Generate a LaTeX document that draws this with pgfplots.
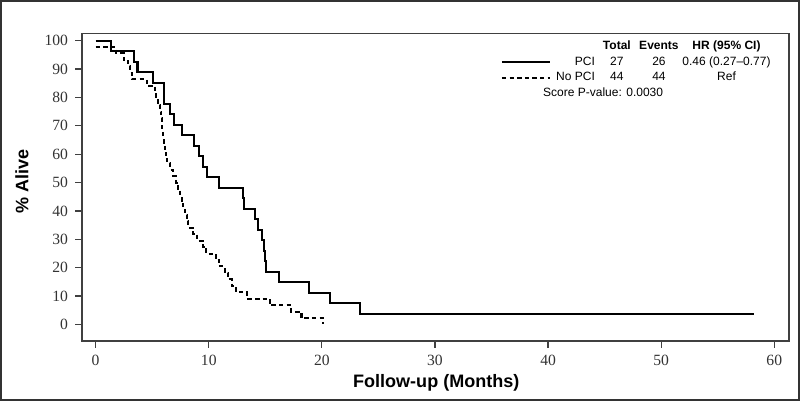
\documentclass[border=0pt]{standalone}
\usepackage{fontspec}
\setmainfont{Liberation Sans}
\newfontfamily\tickfont{Liberation Serif}
\usepackage{pgfplots}
\pgfplotsset{compat=1.18}
\newcommand\rowtxt[4]{\hbox to 21pt{\hss #1}\hbox to 22pt{\hss #2\hss}\hbox to 20pt{\hss #3\hss}\hbox to 47.5pt{\hss #4\hss}}
\begin{document}
\begin{tikzpicture}
\begin{axis}[
  scale only axis, width=353pt, height=153.5pt,
  clip mode=individual,
  xmin=-1.2, xmax=61.3, ymin=-5.8, ymax=102.5,
  xtick={0,10,...,60}, ytick={0,10,...,100},
  tick align=outside, tick pos=left, major tick length=3.5pt,
  axis line style={draw=black!75, line width=0.6pt},
  every tick/.style={black!75, line width=0.6pt},
  tick label style={font=\tickfont\fontsize{7.8}{9}\selectfont, text=black!80},
  /pgf/number format/assume math mode=true,
  xlabel={Follow-up (Months)}, ylabel={\% Alive},
  label style={font=\bfseries\fontsize{9}{11}\selectfont},
  xlabel style={at={(axis description cs:0.501,-0.137)},anchor=center},
  ylabel style={at={(axis description cs:-0.085,0.52)},anchor=center},
  legend style={at={(axis description cs:0.592,0.984)}, anchor=north west, draw=none, fill=none,
    font=\fontsize{6}{7}\selectfont, row sep=0pt, inner sep=0pt, nodes={inner sep=1pt}},
  legend cell align=left,
  legend image code/.code={\draw[#1] (0cm,0cm) -- (0.84cm,0cm);},
]
\addlegendimage{empty legend}
\addlegendentry{\rowtxt{}{\bfseries Total}{\bfseries Events}{\bfseries HR (95\% CI)}}
\addplot[const plot, black, line width=1pt] coordinates {
(0,100)(1.4,96.3)(3.35,92.6)(3.7,88.9)(5.1,85.2)(6.0,77.8)(6.55,74.1)(6.9,70.4)(7.65,66.7)(8.7,63.0)(9.1,59.3)(9.45,55.6)(9.85,51.9)(10.9,48.1)(13.0,44.4)(13.1,40.7)(14.05,37.0)(14.35,33.3)(14.75,29.6)(14.9,25.9)(15.0,22.2)(15.1,18.5)(16.2,14.8)(18.9,11.1)(20.75,7.4)(23.35,3.7)(58.2,3.7)
};
\addlegendentry{\rowtxt{PCI}{27}{26}{0.46 (0.27--0.77)}}
\addplot[const plot, black, line width=1pt, dash pattern=on 2.2pt off 1.6pt] coordinates {
(0,97.7)(1.8,95.5)(2.5,93.2)(2.9,90.9)(3.05,88.6)(3.25,86.4)(4.5,84.1)(5.25,81.8)(5.35,79.5)(5.5,77.3)(5.65,75.0)(5.8,72.7)(5.85,70.5)(5.9,68.2)(5.95,65.9)(6.0,63.6)(6.1,61.4)(6.2,59.1)(6.35,56.8)(6.6,54.5)(6.85,52.3)(7.1,50.0)(7.3,47.7)(7.5,45.5)(7.6,43.2)(7.75,40.9)(7.9,38.6)(8.05,36.4)(8.2,34.1)(8.6,31.8)(9.0,29.5)(9.5,27.3)(9.8,25.0)(10.6,22.7)(10.9,20.5)(11.4,18.2)(11.7,15.9)(12.05,13.6)(12.4,11.4)(13.4,9.1)(15.4,6.8)(17.3,4.5)(18.2,2.3)(20.1,0)
};
\addlegendentry{\rowtxt{No PCI}{44}{44}{Ref}}
\node[anchor=west, font=\fontsize{6}{7}\selectfont, inner sep=0pt] at (axis description cs:0.6516,0.808) {Score P-value: 0.0030};
\draw[black!80, line width=1pt] (axis description cs:-0.1147,-0.1906) rectangle (axis description cs:1.0142,1.1059);
\end{axis}
\end{tikzpicture}
\end{document}
